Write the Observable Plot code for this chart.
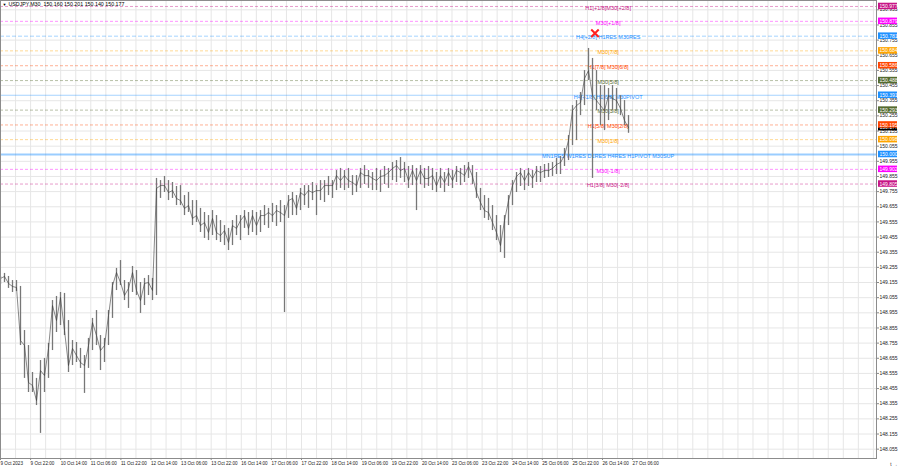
<!DOCTYPE html>
<html><head><meta charset="utf-8">
<script src="https://cdn.jsdelivr.net/npm/d3@7"></script>
<script src="https://cdn.jsdelivr.net/npm/@observablehq/plot@0.6"></script>
<style>html,body{margin:0;padding:0;background:#fff;} svg{display:block}</style>
</head><body><div id="chart"></div>
<script>
// ---- data ----
const symbolTitle = "USDJPY,M30  150.160 150.201 150.140 150.177";
const barsPerSample = 4.2526; // M30 bars between samples
const high = [
149.195,149.215,149.195,149.168,149.168,149.129,148.838,148.739,148.561,148.522,
148.640,148.654,148.753,149.036,149.063,149.089,149.083,148.904,148.772,148.759,
148.720,148.673,148.786,148.918,148.970,148.805,148.786,148.970,149.155,149.248,
149.300,149.168,149.155,149.261,149.234,149.155,149.182,149.201,149.182,149.842,
149.828,149.855,149.828,149.815,149.789,149.795,149.729,149.749,149.696,149.696,
149.644,149.617,149.597,149.630,149.597,149.564,149.531,149.512,149.564,149.597,
149.597,149.630,149.617,149.630,149.617,149.630,149.663,149.644,149.677,149.663,
149.696,149.663,149.729,149.749,149.729,149.776,149.795,149.795,149.815,149.795,
149.828,149.828,149.855,149.828,149.894,149.908,149.894,149.908,149.861,149.861,
149.908,149.927,149.894,149.881,149.908,149.894,149.921,149.908,149.947,149.960,
149.980,149.947,149.921,149.927,149.908,149.927,149.908,149.921,149.908,149.881,
149.908,149.881,149.908,149.894,149.921,149.908,149.927,149.947,149.927,149.881,
149.776,149.729,149.710,149.663,149.597,149.531,149.597,149.729,149.828,149.881,
149.908,149.894,149.908,149.894,149.921,149.921,149.934,149.941,149.947,149.974,
149.987,150.040,150.125,150.323,150.356,150.409,150.554,150.700,150.634,150.554,
150.455,150.455,150.436,150.455,150.436,150.389,150.356,150.257];
const low = [
149.142,149.155,149.116,149.089,149.096,148.739,148.522,148.429,148.429,148.343,
148.159,148.429,148.522,148.706,148.825,148.871,148.805,148.561,148.607,148.627,
148.588,148.423,148.588,148.706,148.739,148.574,148.627,148.739,148.918,149.102,
149.135,149.036,148.984,149.089,149.069,148.951,149.003,149.069,149.036,149.069,
149.710,149.749,149.696,149.710,149.663,149.663,149.597,149.617,149.531,149.551,
149.485,149.446,149.432,149.465,149.432,149.419,149.399,149.366,149.399,149.465,
149.432,149.512,149.465,149.485,149.465,149.485,149.531,149.512,149.551,149.525,
149.551,148.957,149.578,149.597,149.597,149.630,149.663,149.644,149.696,149.597,
149.696,149.683,149.729,149.710,149.762,149.776,149.762,149.776,149.729,149.749,
149.776,149.802,149.776,149.762,149.762,149.749,149.802,149.776,149.828,149.815,
149.842,149.815,149.776,149.795,149.630,149.802,149.776,149.789,149.762,149.749,
149.776,149.749,149.789,149.776,149.815,149.795,149.815,149.842,149.802,149.710,
149.630,149.578,149.564,149.498,149.432,149.353,149.314,149.531,149.663,149.749,
149.789,149.762,149.789,149.776,149.815,149.815,149.842,149.848,149.855,149.868,
149.868,149.921,149.960,150.059,150.092,150.257,150.323,150.488,149.842,150.290,
150.191,150.158,150.224,150.290,150.290,150.257,150.191,150.140];
const close = [
149.182,149.195,149.149,149.129,149.122,148.772,148.739,148.495,148.475,148.376,
148.574,148.541,148.720,149.003,148.904,149.056,148.838,148.607,148.720,148.673,
148.627,148.607,148.739,148.891,148.805,148.706,148.739,148.937,149.135,149.221,
149.155,149.069,149.116,149.221,149.102,149.036,149.149,149.155,149.102,149.776,
149.795,149.795,149.749,149.762,149.710,149.696,149.644,149.663,149.578,149.597,
149.531,149.551,149.485,149.578,149.485,149.465,149.498,149.419,149.531,149.512,
149.564,149.597,149.512,149.597,149.531,149.597,149.597,149.617,149.597,149.630,
149.617,149.597,149.696,149.710,149.644,149.749,149.729,149.762,149.749,149.762,
149.762,149.795,149.795,149.795,149.861,149.828,149.861,149.828,149.815,149.795,
149.881,149.861,149.861,149.842,149.828,149.855,149.861,149.881,149.908,149.927,
149.894,149.908,149.828,149.894,149.828,149.894,149.842,149.842,149.861,149.795,
149.861,149.815,149.881,149.828,149.894,149.881,149.861,149.921,149.855,149.749,
149.683,149.630,149.617,149.551,149.485,149.399,149.564,149.696,149.795,149.855,
149.881,149.828,149.881,149.842,149.894,149.881,149.894,149.894,149.908,149.934,
149.947,149.993,150.092,150.290,150.323,150.343,150.502,150.554,150.389,150.356,
150.323,150.290,150.389,150.370,150.356,150.304,150.224,150.177];

const timeLabels = ["9 Oct 2023","9 Oct 22:00","10 Oct 14:00","11 Oct 06:00","11 Oct 22:00",
"12 Oct 14:00","13 Oct 06:00","13 Oct 22:00","16 Oct 14:00","17 Oct 06:00","17 Oct 22:00",
"18 Oct 14:00","19 Oct 06:00","19 Oct 22:00","20 Oct 14:00","23 Oct 06:00","23 Oct 22:00",
"24 Oct 14:00","25 Oct 06:00","25 Oct 22:00","26 Oct 14:00","27 Oct 06:00"];
const labelStepBars = 32;
const gridStepBars = 16;
const priceTicks = [148.055,148.155,148.255,148.355,148.455,148.555,148.655,148.755,148.855,148.955,
149.055,149.155,149.255,149.355,149.455,149.555,149.655,149.755,149.855,149.955,
150.055,150.155,150.255,150.355,150.455,150.555,150.655,150.755,150.855,150.955];

const levelPrices = [150.977,150.879,150.781,150.684,150.586,150.488,150.391,150.293,150.195,150.098,150.000,149.902,149.805];
const levelNames = ["H1[+1/8]M30[+2/8]","M30[+1/8]","H4[+2/8] H1RES M30RES","M30[7/8]","H1[7/8] M30[6/8]",
"M30[5/8]","H4[+1/8] H1[6/8] M30PIVOT","M30[3/8]","H1[5/8] M30[2/8]","M30[1/8]",
"MN1RES W1RES D1RES H4RES H1PIVOT M30SUP","M30[-1/8]","H1[3/8] M30[-2/8]"];
const levelColors = ["#C71585","#FF00FF","#1E90FF","#FFA500","#FF4500","#556B2F","#1E90FF","#556B2F","#FF4500","#FFA500","#1E90FF","#FF00FF","#C71585"];
const levelKinds = ["dash","dash","bluedash","dash","dash","dash","blue","dash","dash","dash","bluethick","dash","dash"];
const lastPrice = 150.177;
const markerBar = 632, markerPrice = 150.80;
const levelLabelBar = 646;
const totalBars = 931.3;

// ---- build ----
const bars = high.map((h, i) => ({t: i * barsPerSample, hi: h, lo: low[i], cl: close[i]}));
const levels = levelPrices.map((v, i) => ({v, name: levelNames[i], color: levelColors[i], kind: levelKinds[i]}));
const tickBars = timeLabels.map((_, i) => i * labelStepBars);
const labelMap = new Map(tickBars.map((b, i) => [b, timeLabels[i]]));
const gridBars = d3.range(0, totalBars, gridStepBars);
const half = 0.0215;

const chart = Plot.plot({
  width: 900, height: 468,
  marginLeft: 0, marginRight: 24, marginTop: 0, marginBottom: 10,
  style: {fontFamily: "Liberation Sans, DejaVu Sans, sans-serif", background: "#fff", overflow: "visible"},
  x: {domain: [0, totalBars], axis: null},
  y: {domain: [147.9934, 151.0165], axis: null},
  marks: [
    Plot.ruleX(gridBars, {stroke: "#e6e6e6"}),
    Plot.ruleY(priceTicks, {stroke: "#e6e6e6"}),
    Plot.ruleY(levels.filter(d => d.kind === "dash"), {y: "v", stroke: "color", strokeOpacity: 0.42, strokeDasharray: "3,2"}),
    Plot.ruleY(levels.filter(d => d.kind === "bluedash"), {y: "v", stroke: "color", strokeOpacity: 0.4, strokeDasharray: "4,2"}),
    Plot.ruleY(levels.filter(d => d.kind === "blue"), {y: "v", stroke: "color", strokeOpacity: 0.4}),
    Plot.ruleY(levels.filter(d => d.kind === "bluethick"), {y: "v", stroke: "color", strokeOpacity: 0.45, strokeWidth: 2}),
    Plot.text(levels, {x: levels.map(() => levelLabelBar), y: "v", text: "name", fill: "color", fontSize: 5.5, dy: 1.5}),
    Plot.ruleX(bars, {x: "t", y1: "lo", y2: "hi", stroke: "#777", strokeWidth: 1.3}),
    Plot.line(bars, {x: "t", y: "cl", stroke: "#3a3a3a", strokeWidth: 0.6}),
    Plot.dot([{t: markerBar, p: markerPrice}], {x: "t", y: "p", symbol: "times", r: 3.5, stroke: "#ff2020", strokeWidth: 2}),
    Plot.text([symbolTitle], {frameAnchor: "top-left", dx: 8, dy: 4, lineAnchor: "middle", textAnchor: "start", fontSize: 5.3, fill: "#000"}),
    Plot.text(["\u25BC"], {frameAnchor: "top-left", dx: 2, dy: 4, lineAnchor: "middle", textAnchor: "start", fontSize: 4, fill: "#000"}),
    Plot.axisX(tickBars, {anchor: "bottom", tickSize: 2, tickPadding: 1, fontSize: 4.6, textAnchor: "start", fill: "#222", stroke: "#888", tickFormat: d => labelMap.get(d)}),
    Plot.axisY(priceTicks, {anchor: "right", tickSize: 2, tickPadding: 1, fontSize: 5, fill: "#222", stroke: "#888", tickFormat: d => d.toFixed(3)}),
    Plot.frame({stroke: "#8c8c8c"}),
    Plot.rect([lastPrice], {y1: d => d - half, y2: d => d + half, fill: "#000", insetLeft: 878, insetRight: -21}),
    Plot.text([lastPrice], {y: d => d, text: d => d.toFixed(3), frameAnchor: "right", dx: 3, textAnchor: "start", fill: "#fff", fontSize: 5}),
    Plot.rect(levels, {y1: d => d.v - half, y2: d => d.v + half, fill: "color", insetLeft: 878, insetRight: -21}),
    Plot.text(levels, {y: "v", text: d => d.v.toFixed(3), frameAnchor: "right", dx: 3, textAnchor: "start", fill: "#fff", fontSize: 5})
  ]
});
document.getElementById("chart").appendChild(chart);
</script>
</body></html>
